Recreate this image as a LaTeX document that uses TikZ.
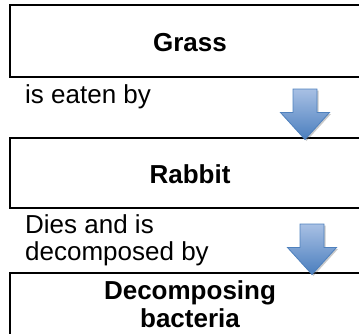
\documentclass[tikz,border=0pt]{standalone}
\usepackage{fontspec}
\setmainfont{Liberation Sans}
\usetikzlibrary{shadows}
\definecolor{arrowtop}{RGB}{168,192,228}
\definecolor{arrowbot}{RGB}{74,126,190}
\definecolor{arrowedge}{RGB}{79,129,189}
\tikzset{
  stage/.style={draw, line width=1.8pt, minimum width=360pt, inner sep=0pt,
    font=\bfseries\fontsize{26}{28}\selectfont},
  caption/.style={inner sep=0pt, anchor=base west, align=left,
    font=\fontsize{26}{27.5}\selectfont},
  flowarrow/.pic={
    \draw[arrowedge, line width=0.8pt, top color=arrowtop, bottom color=arrowbot,
          drop shadow={shadow xshift=1.5pt, shadow yshift=-1.5pt, opacity=0.35, fill=black!60}]
      (-12,0) -- (12,0) -- (12,23.5) -- (24.5,23.5) -- (0,50.5)
      -- (-24.5,23.5) -- (-12,23.5) -- cycle;
  }
}
\begin{document}
\begin{tikzpicture}[x=1pt, y=-1pt]
  \useasboundingbox (0,0) rectangle (359,333);
  \clip (0,0) rectangle (359,333);

  % food chain stages
  \node[stage, minimum height=72pt, text height=20pt, text depth=0pt] (grass) at (190,41) {Grass};
  \node[stage, minimum height=70pt, text height=20pt, text depth=0pt] (rabbit) at (190,173) {Rabbit};
  \node[stage, minimum height=63pt, align=center] (bacteria) at (190,304.5) {Decomposing\\bacteria};

  % relations between the stages (base anchor sits on the last line)
  \node[caption] (eaten) at (25,103) {is eaten by};
  \node[caption] (decomp) at (25,260.5) {Dies and is\\decomposed by};

  % block arrows pointing down to the next stage
  \pic (arr1) at (305,89) {flowarrow};
  \pic (arr2) at (312,224) {flowarrow};
\end{tikzpicture}
\end{document}
